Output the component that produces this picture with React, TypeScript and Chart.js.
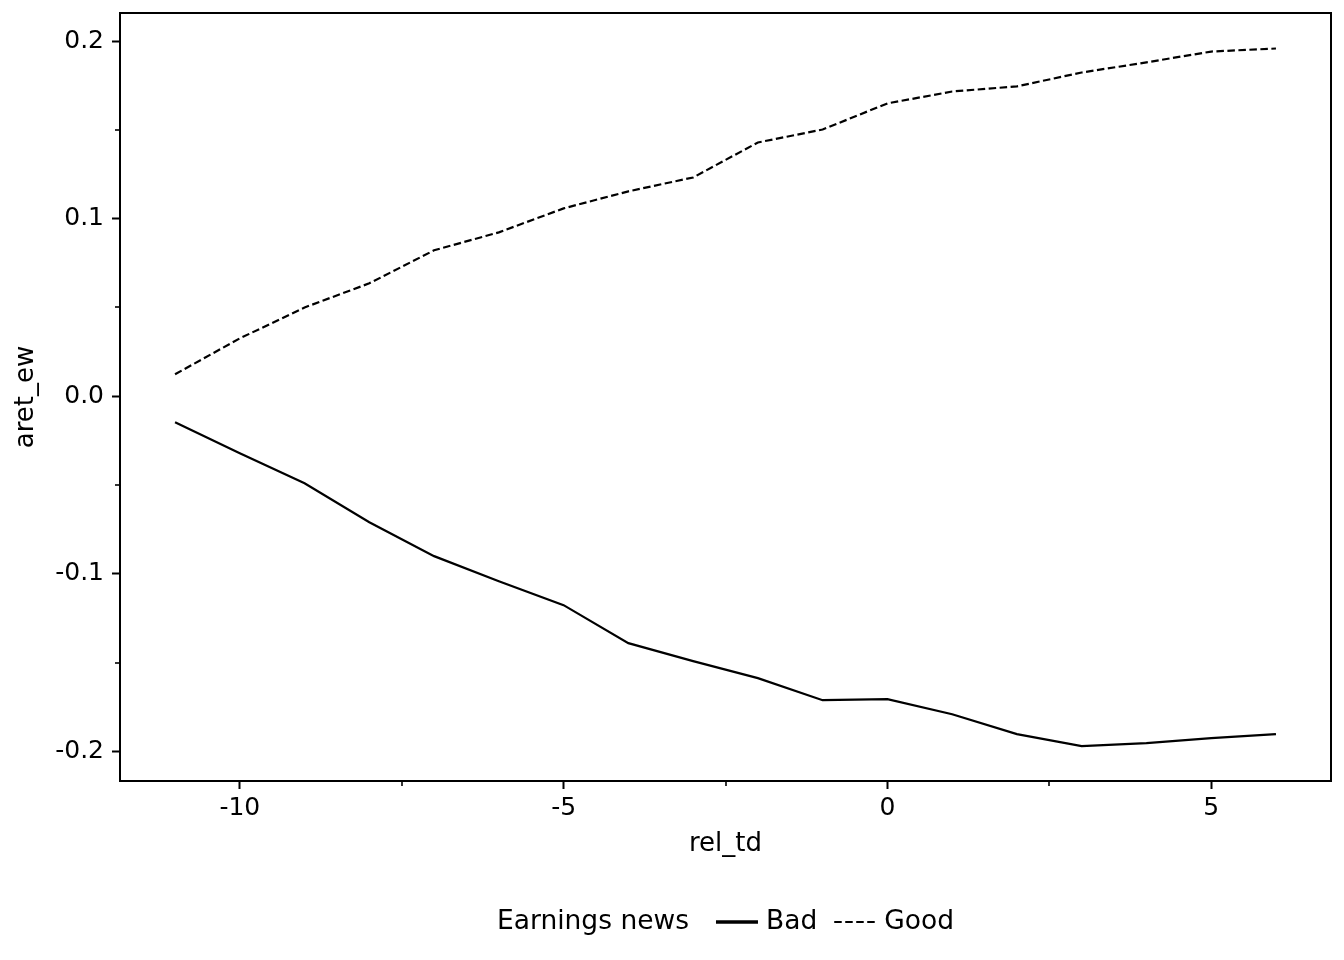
import React, { useEffect, useRef } from "react";
import { Chart, registerables } from "chart.js";

Chart.register(...registerables);

const relTd = [-11, -10, -9, -8, -7, -6, -5, -4, -3, -2, -1, 0, 1, 2, 3, 4, 5, 6];
const badValues = [
  -0.0146, -0.0321, -0.049, -0.0709, -0.09, -0.1041, -0.1176, -0.139, -0.1491,
  -0.1587, -0.1711, -0.1705, -0.179, -0.1902, -0.197, -0.1953, -0.1925, -0.1902,
];
const goodValues = [
  0.0124, 0.0326, 0.05, 0.0636, 0.0822, 0.0923, 0.1058, 0.1154, 0.1232, 0.1429,
  0.1502, 0.1649, 0.1716, 0.1745, 0.1823, 0.188, 0.1941, 0.1958,
];
const xMinorTicks = [-7.5, -2.5, 2.5];
const yMinorTicks = [-0.15, -0.05, 0.05, 0.15];
const legendTitle = "Earnings news";
const seriesNames = ["Bad", "Good"];

const FONT = "'DejaVu Sans', sans-serif";

const framePlugin = {
  id: "frameAndLegend",
  afterDraw(chart: any) {
    const { ctx, chartArea } = chart;
    const xs = chart.scales.x;
    const ys = chart.scales.y;
    ctx.save();
    // frame
    ctx.strokeStyle = "#000";
    ctx.lineWidth = 2;
    ctx.strokeRect(
      chartArea.left,
      chartArea.top,
      chartArea.right - chartArea.left,
      chartArea.bottom - chartArea.top
    );
    // minor ticks
    ctx.lineWidth = 1.6;
    for (const v of xMinorTicks) {
      const px = Math.round(xs.getPixelForValue(v));
      ctx.beginPath();
      ctx.moveTo(px, chartArea.bottom);
      ctx.lineTo(px, chartArea.bottom + 5);
      ctx.stroke();
    }
    for (const v of yMinorTicks) {
      const py = Math.round(ys.getPixelForValue(v));
      ctx.beginPath();
      ctx.moveTo(chartArea.left, py);
      ctx.lineTo(chartArea.left - 5, py);
      ctx.stroke();
    }
    // legend
    ctx.font = `26.5px ${FONT}`;
    ctx.fillStyle = "#000";
    ctx.textBaseline = "middle";
    ctx.textAlign = "left";
    const wTitle = ctx.measureText(legendTitle).width;
    const wBad = ctx.measureText(seriesNames[0]).width;
    const wGood = ctx.measureText(seriesNames[1]).width;
    const sample = 42;
    const total = wTitle + 27 + sample + 8 + wBad + 17 + sample + 8 + wGood;
    const cx = (chartArea.left + chartArea.right) / 2;
    const ly = 922;
    let x = cx - total / 2;
    ctx.fillText(legendTitle, x, ly);
    x += wTitle + 27;
    ctx.lineWidth = 3.5;
    ctx.setLineDash([]);
    ctx.beginPath();
    ctx.moveTo(x, ly);
    ctx.lineTo(x + sample, ly);
    ctx.stroke();
    x += sample + 8;
    ctx.fillText(seriesNames[0], x, ly);
    x += wBad + 17;
    ctx.lineWidth = 2;
    ctx.setLineDash([7.5, 3.5]);
    ctx.beginPath();
    ctx.moveTo(x, ly);
    ctx.lineTo(x + sample, ly);
    ctx.stroke();
    ctx.setLineDash([]);
    x += sample + 8;
    ctx.fillText(seriesNames[1], x, ly);
    ctx.restore();
  },
};

export default function App() {
  const canvasRef = useRef<HTMLCanvasElement | null>(null);

  useEffect(() => {
    const canvas = canvasRef.current;
    if (!canvas) return;
    const chart = new Chart(canvas, {
      type: "line",
      data: {
        labels: relTd,
        datasets: [
          {
            label: seriesNames[0],
            data: relTd.map((x, i) => ({ x, y: badValues[i] })),
            borderColor: "#000",
            borderWidth: 2.2,
            pointRadius: 0,
            tension: 0,
            fill: false,
          },
          {
            label: seriesNames[1],
            data: relTd.map((x, i) => ({ x, y: goodValues[i] })),
            borderColor: "#000",
            borderWidth: 2.2,
            borderDash: [7.5, 3.5],
            pointRadius: 0,
            tension: 0,
            fill: false,
          },
        ],
      },
      options: {
        animation: false,
        responsive: false,
        devicePixelRatio: 1,
        layout: { padding: { left: 0, right: 13, top: 13, bottom: 0 } },
        plugins: {
          legend: { display: false },
          tooltip: { enabled: false },
        },
        scales: {
          x: {
            type: "linear",
            min: -11.85,
            max: 6.85,
            afterFit: (s: any) => {
              s.height = 179;
              s.paddingLeft = 0;
              s.paddingRight = 0;
            },
            grid: {
              drawOnChartArea: false,
              drawTicks: true,
              tickLength: 8,
              tickWidth: 2,
              tickColor: "#000",
            },
            border: { display: true, color: "#000", width: 2 },
            ticks: {
              stepSize: 5,
              includeBounds: false,
              color: "#000",
              padding: 4,
              maxRotation: 0,
              font: { family: FONT, size: 25 },
              callback: (v: any) => String(Math.round(Number(v))),
            },
            title: {
              display: true,
              text: "rel_td",
              color: "#000",
              font: { family: FONT, size: 26 },
              padding: { top: 0, bottom: 100 },
            },
          },
          y: {
            type: "linear",
            min: -0.2166,
            max: 0.2158,
            afterFit: (s: any) => {
              s.width = 120;
              s.paddingTop = 0;
              s.paddingBottom = 0;
            },
            grid: {
              drawOnChartArea: false,
              drawTicks: true,
              tickLength: 8,
              tickWidth: 2,
              tickColor: "#000",
            },
            border: { display: true, color: "#000", width: 2 },
            ticks: {
              stepSize: 0.1,
              includeBounds: false,
              color: "#000",
              padding: 8,
              font: { family: FONT, size: 25 },
              callback: (v: any) => {
                const n = Number(v);
                if (Math.abs(n) < 1e-9) return "0.0";
                return n.toFixed(1);
              },
            },
            title: {
              display: true,
              text: "aret_ew",
              color: "#000",
              font: { family: FONT, size: 26 },
              padding: { top: 11, bottom: 0 },
            },
          },
        },
      },
      plugins: [framePlugin],
    });
    return () => chart.destroy();
  }, []);

  return (
    <div
      style={{
        position: "fixed",
        left: 0,
        top: 0,
        width: 1344,
        height: 960,
        background: "#fff",
      }}
    >
      <canvas
        ref={canvasRef}
        width={1344}
        height={960}
        style={{ width: 1344, height: 960, display: "block" }}
      />
    </div>
  );
}
